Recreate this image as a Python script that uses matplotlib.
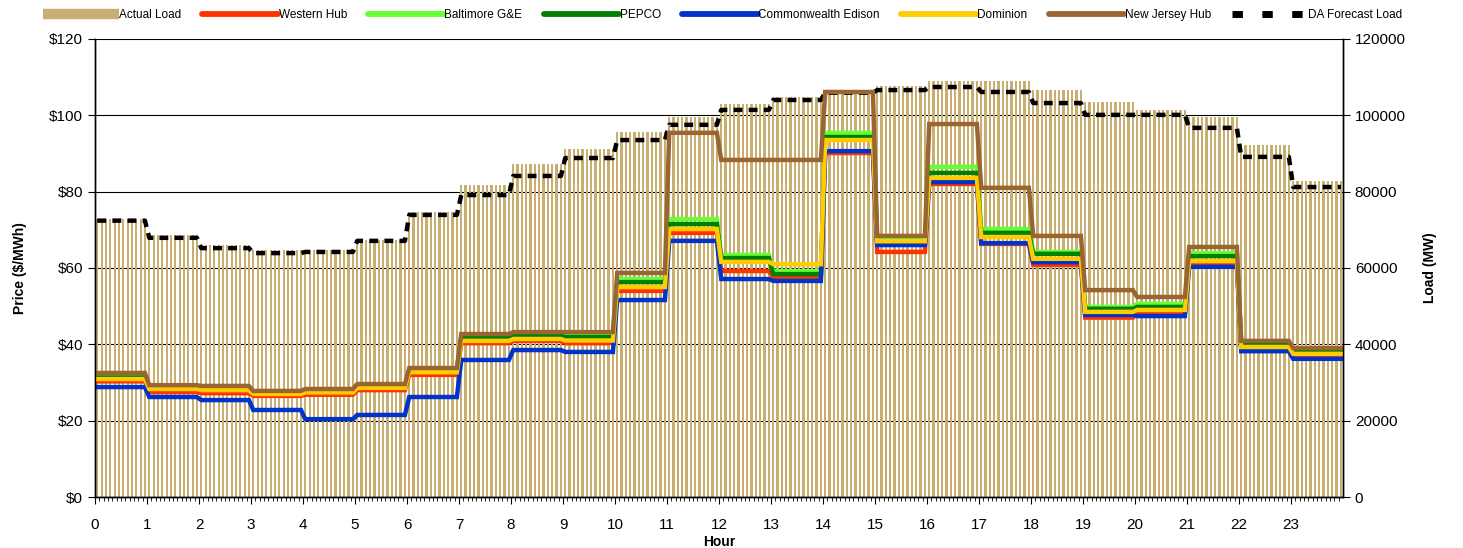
import matplotlib
matplotlib.use("Agg")
import matplotlib.pyplot as plt
import numpy as np
from matplotlib.lines import Line2D

plt.rcParams["font.family"] = ["Liberation Sans", "DejaVu Sans"]

# ── Hourly data ──────────────────────────────────────────────────────────────
hours = list(range(24))

actual_load = [72800, 68600, 66000, 64700, 64700, 67300, 74700, 81700, 87200, 91200,
               95600, 99600, 103000, 104800, 106400, 107700, 109000, 109000, 106600, 103500,
               101400, 99600, 92200, 82800]
da_forecast = [72400, 67900, 65200, 63900, 64200, 67100, 73900, 79100, 84100, 88800,
               93500, 97500, 101400, 104000, 105900, 106600, 107400, 106100, 103200, 100100,
               100100, 96700, 89100, 81200]

western_hub = [30.3, 27.5, 27.2, 26.5, 26.8, 28.0, 32.0, 40.3, 40.9, 40.3,
               54.0, 69.2, 59.2, 57.6, 90.1, 64.2, 82.0, 66.3, 60.8, 47.0,
               48.2, 61.3, 39.0, 37.2]
baltimore = [31.7, 28.8, 28.6, 27.6, 28.0, 29.2, 33.2, 42.2, 42.8, 42.4,
             57.1, 72.8, 63.4, 59.2, 95.4, 67.4, 86.5, 70.2, 64.2, 49.8,
             50.6, 63.9, 40.4, 38.6]
pepco = [31.3, 28.5, 28.3, 27.3, 27.7, 28.9, 32.9, 41.7, 42.3, 41.9,
         56.3, 71.5, 62.6, 58.4, 94.3, 66.8, 84.9, 69.2, 63.7, 49.3,
         49.8, 63.1, 40.2, 38.3]
comed = [28.8, 26.2, 25.4, 22.8, 20.4, 21.5, 26.2, 35.9, 38.5, 38.0,
         51.6, 67.1, 57.1, 56.6, 90.6, 66.0, 82.5, 66.5, 61.5, 47.7,
         47.4, 60.3, 38.2, 36.2]
dominion = [30.9, 28.3, 28.0, 27.0, 27.4, 28.6, 32.7, 40.9, 41.4, 41.0,
            55.0, 70.2, 61.6, 61.0, 93.5, 67.0, 83.6, 68.1, 62.4, 48.5,
            49.0, 61.8, 39.3, 37.5]
nj_hub = [32.5, 29.3, 29.1, 27.8, 28.3, 29.6, 33.8, 42.7, 43.2, 43.2,
          58.7, 95.4, 88.3, 88.3, 106.1, 68.4, 97.7, 81.0, 68.4, 54.2,
          52.4, 65.5, 40.9, 39.0]

price_series = [
    ("Western Hub", western_hub, "#FF3300"),
    ("Baltimore G&E", baltimore, "#66FF33"),
    ("PEPCO", pepco, "#008000"),
    ("Commonwealth Edison", comed, "#0033CC"),
    ("Dominion", dominion, "#FFCC00"),
    ("New Jersey Hub", nj_hub, "#996633"),
]

LOAD_COLOR = "#C9AE72"
STEPS = 12  # 5-minute intervals per hour

t = np.arange(len(hours) * STEPS) / STEPS + 0.5 / STEPS

fig = plt.figure(figsize=(14.63, 5.48), dpi=100)
ax = fig.add_axes([0.065, 0.093, 0.853, 0.836])   # load axis (right ticks)
ax2 = ax.twinx()                                   # price axis (left ticks)

# ── Load bars + forecast on the load axis ────────────────────────────────────
ax.bar(t, np.repeat(actual_load, STEPS), width=0.5 / STEPS, color=LOAD_COLOR,
       zorder=2)
ax.plot(t, np.repeat(da_forecast, STEPS), color="black", lw=3.2,
        dashes=(2.0, 1.4), dash_capstyle="butt", zorder=3)
ax.set_ylim(0, 120000)
ax.set_yticks(np.arange(0, 120001, 20000))
ax.yaxis.tick_right()
ax.yaxis.set_label_position("right")
ax.set_ylabel("Load (MW)", fontsize=10, fontweight="bold", labelpad=12)
ax.grid(axis="y", color="black", lw=0.8, zorder=0)
ax.set_axisbelow(True)

# ── Price lines ──────────────────────────────────────────────────────────────
for name, vals, col in price_series:
    ax2.plot(t, np.repeat(vals, STEPS), color=col, lw=3.2,
             solid_joinstyle="miter")
ax2.set_ylim(0, 120)
ax2.set_yticks(np.arange(0, 121, 20))
ax2.set_yticklabels([f"${v}" for v in range(0, 121, 20)])
ax2.yaxis.tick_left()
ax2.yaxis.set_label_position("left")
ax2.set_ylabel("Price ($/MWh)", fontsize=10, fontweight="bold", labelpad=16)

ax.set_xlim(0, 24)
ax.set_xticks(hours)
ax.set_xticklabels([str(h) for h in hours])
ax.set_xticks(np.arange(0, 24, 1 / STEPS), minor=True)
ax.set_xlabel("Hour", fontsize=10, fontweight="bold", labelpad=2)

for a in (ax, ax2):
    a.tick_params(axis="both", which="major", labelsize=11, length=5, width=0.8,
                  direction="out")
    a.tick_params(axis="x", which="minor", length=3, width=0.6)
    a.spines["top"].set_visible(False)
    for s in ("left", "right", "bottom"):
        a.spines[s].set_linewidth(1.0)
ax.tick_params(axis="x", which="major", pad=10)

# ── Legend across the top ────────────────────────────────────────────────────
handles = [Line2D([0], [0], color=LOAD_COLOR, lw=7.5, solid_capstyle="butt")]
labels = ["Actual Load"]
for name, vals, col in price_series:
    handles.append(Line2D([0], [0], color=col, lw=4.2, solid_capstyle="round"))
    labels.append(name)
handles.append(Line2D([0], [0], color="black", lw=5, dashes=(1.5, 2.8),
                      dash_capstyle="butt"))
labels.append("DA Forecast Load")
fig.legend(handles, labels, loc="center", bbox_to_anchor=(0.494, 0.972), ncol=8,
           frameon=False, fontsize=8.5, handlelength=6.4, handletextpad=0.05,
           columnspacing=1.8)

fig.savefig("out.png", dpi=100)
